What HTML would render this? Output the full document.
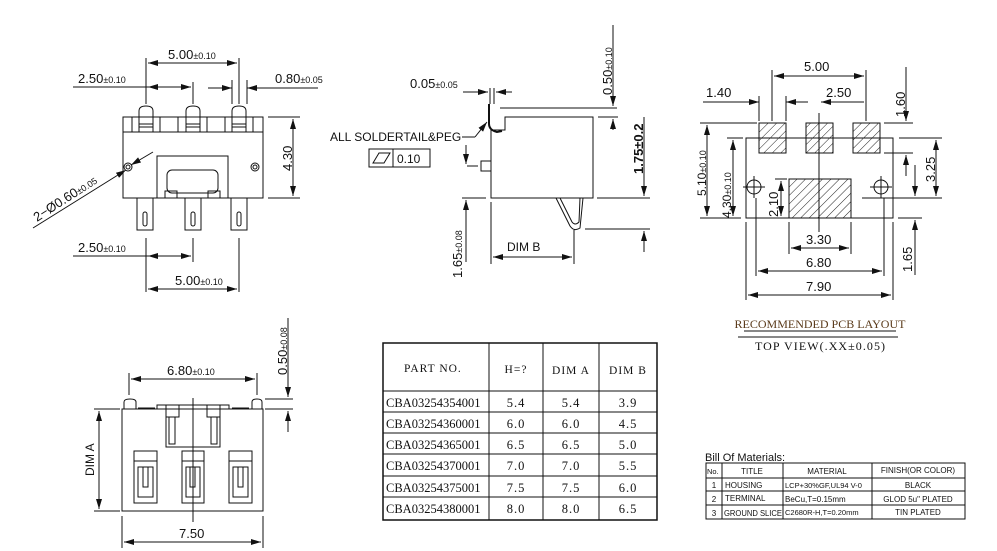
<!DOCTYPE html>
<html><head><meta charset="utf-8"><style>
html,body{margin:0;padding:0;background:#fff}
svg{display:block}
text{font-family:"Liberation Sans",sans-serif;fill:#111}
.s{font-family:"Liberation Serif","Noto Serif CJK SC",serif}
</style></head><body>
<svg width="997" height="551" viewBox="0 0 997 551" xmlns="http://www.w3.org/2000/svg">
<defs>
<marker id="a" viewBox="0 0 10 6" refX="10" refY="3" markerWidth="10" markerHeight="6" orient="auto-start-reverse" markerUnits="userSpaceOnUse"><path d="M0,0 L10,3 L0,6z" fill="#111"/></marker>
<pattern id="h" width="6" height="6" patternUnits="userSpaceOnUse" patternTransform="rotate(45)"><line x1="0" y1="0" x2="0" y2="6" stroke="#222" stroke-width="1"/></pattern>
</defs>
<g stroke="#111" stroke-width="1" fill="none">
<rect x="123" y="117" width="140" height="81"/>
<line x1="123" y1="132" x2="263" y2="132"/>
<g>
<path d="M139,132 V111 Q139,106 146,106 Q153,106 153,111 V132"/><line x1="139" y1="124" x2="153" y2="124"/><line x1="139" y1="127" x2="153" y2="127"/>
<path d="M186,132 V111 Q186,106 193,106 Q200,106 200,111 V132"/><line x1="186" y1="124" x2="200" y2="124"/><line x1="186" y1="127" x2="200" y2="127"/>
<path d="M232,132 V111 Q232,106 239,106 Q246,106 246,111 V132"/><line x1="232" y1="124" x2="246" y2="124"/><line x1="232" y1="127" x2="246" y2="127"/>
<line x1="132" y1="117" x2="132" y2="132"/><line x1="160" y1="117" x2="160" y2="132"/><line x1="178" y1="117" x2="178" y2="132"/><line x1="207" y1="117" x2="207" y2="132"/><line x1="225" y1="117" x2="225" y2="132"/><line x1="253" y1="117" x2="253" y2="132"/>
</g>
<rect x="157" y="156" width="71" height="42"/>
<rect x="167" y="170" width="51" height="23" rx="5"/>
<rect x="165" y="191" width="12" height="7"/><rect x="208" y="191" width="12" height="7"/>
<circle cx="128" cy="167" r="4"/><circle cx="128" cy="167" r="2"/>
<circle cx="255" cy="167" r="4"/><circle cx="255" cy="167" r="2"/>
<rect x="137" y="198" width="16" height="32"/><rect x="143" y="212" width="4" height="14" rx="2"/>
<rect x="185" y="198" width="16" height="32"/><rect x="191" y="212" width="4" height="14" rx="2"/>
<rect x="231" y="198" width="16" height="32"/><rect x="237" y="212" width="4" height="14" rx="2"/>
<line x1="146" y1="58" x2="146" y2="104"/><line x1="239" y1="58" x2="239" y2="104"/>
<line x1="148" y1="63" x2="237" y2="63" marker-start="url(#a)" marker-end="url(#a)"/>
<line x1="193" y1="82" x2="193" y2="104"/>
<line x1="73" y1="87" x2="191" y2="87" marker-end="url(#a)"/><line x1="148" y1="87" x2="160" y2="87" marker-start="url(#a)"/>
<line x1="232" y1="80" x2="232" y2="104"/><line x1="247" y1="80" x2="247" y2="104"/>
<line x1="208" y1="88" x2="232" y2="88" marker-end="url(#a)"/><line x1="247" y1="88" x2="318" y2="88" marker-start="url(#a)"/>
<line x1="268" y1="117" x2="300" y2="117"/><line x1="268" y1="198" x2="300" y2="198"/>
<line x1="293" y1="119" x2="293" y2="196" marker-start="url(#a)" marker-end="url(#a)"/>
<line x1="33" y1="228" x2="126" y2="170" marker-end="url(#a)"/><line x1="153" y1="152" x2="131" y2="165" marker-end="url(#a)"/>
<line x1="146" y1="238" x2="146" y2="292"/><line x1="193" y1="238" x2="193" y2="262"/><line x1="239" y1="238" x2="239" y2="292"/>
<line x1="73" y1="256" x2="191" y2="256" marker-end="url(#a)"/><line x1="148" y1="256" x2="160" y2="256" marker-start="url(#a)"/>
<line x1="148" y1="289" x2="237" y2="289" marker-start="url(#a)" marker-end="url(#a)"/>
<path d="M491,130 H505 V117 H593 V198 H491 Z"/>
<path d="M489,104 V124 Q489,130 497,132 L502,131" stroke-width="2"/>
<rect x="481" y="161" width="10" height="10"/>
<path d="M556,198 L570,226 Q574,232 580,228 L583,198"/><path d="M560,198 L572,222 Q575,226 579,222 L580,198"/>
<line x1="500" y1="108" x2="617" y2="108"/>
<line x1="490" y1="88" x2="490" y2="104"/><line x1="494" y1="88" x2="494" y2="104"/>
<line x1="463" y1="92" x2="488" y2="92" marker-end="url(#a)"/><line x1="496" y1="92" x2="512" y2="92" marker-start="url(#a)"/>
<line x1="598" y1="117" x2="618" y2="117"/>
<line x1="613" y1="25" x2="613" y2="106" marker-end="url(#a)"/><line x1="613" y1="119" x2="613" y2="130" marker-start="url(#a)"/>
<line x1="597" y1="198" x2="650" y2="198"/><line x1="585" y1="229" x2="650" y2="229"/>
<line x1="644" y1="117" x2="644" y2="196" marker-end="url(#a)"/><line x1="644" y1="231" x2="644" y2="252" marker-start="url(#a)"/>
<line x1="462" y1="198" x2="486" y2="198"/><line x1="467" y1="166" x2="478" y2="166"/>
<line x1="466" y1="145" x2="466" y2="164" marker-end="url(#a)"/><line x1="466" y1="200" x2="466" y2="262" marker-start="url(#a)"/>
<line x1="491" y1="202" x2="491" y2="264"/><line x1="574" y1="230" x2="574" y2="264"/>
<line x1="493" y1="257" x2="572" y2="257" marker-start="url(#a)" marker-end="url(#a)"/>
<line x1="462" y1="137" x2="475" y2="137"/><line x1="475" y1="137" x2="487" y2="122" marker-end="url(#a)"/>
<rect x="369" y="149" width="61" height="18"/><line x1="393" y1="149" x2="393" y2="167"/>
<path d="M373,163 L379,153 H390 L384,163 Z"/>
<rect x="746" y="138" width="147" height="80"/>
<rect x="759" y="123" width="27" height="30" fill="url(#h)"/><rect x="806" y="123" width="27" height="30" fill="url(#h)"/><rect x="853" y="123" width="27" height="30" fill="url(#h)"/>
<rect x="789" y="179" width="62" height="39" fill="url(#h)"/>
<circle cx="754" cy="187" r="7"/><circle cx="881" cy="187" r="7"/>
<line x1="754" y1="176" x2="754" y2="198"/><line x1="743" y1="187" x2="765" y2="187"/>
<line x1="881" y1="176" x2="881" y2="198"/><line x1="870" y1="187" x2="892" y2="187"/>
<line x1="819" y1="113" x2="819" y2="232"/>
<line x1="772" y1="70" x2="772" y2="121"/><line x1="866" y1="70" x2="866" y2="121"/>
<line x1="774" y1="76" x2="864" y2="76" marker-start="url(#a)" marker-end="url(#a)"/>
<line x1="759" y1="96" x2="759" y2="121"/><line x1="786" y1="96" x2="786" y2="121"/>
<line x1="703" y1="102" x2="759" y2="102" marker-end="url(#a)"/><line x1="786" y1="102" x2="808" y2="102" marker-start="url(#a)"/>
<line x1="821" y1="102" x2="864" y2="102" marker-start="url(#a)"/>
<line x1="884" y1="123" x2="913" y2="123"/><line x1="884" y1="153" x2="913" y2="153"/>
<line x1="906" y1="67" x2="906" y2="121" marker-end="url(#a)"/><line x1="906" y1="155" x2="906" y2="176" marker-start="url(#a)"/>
<line x1="700" y1="123" x2="757" y2="123"/><line x1="700" y1="218" x2="741" y2="218"/>
<line x1="707" y1="125" x2="707" y2="216" marker-start="url(#a)" marker-end="url(#a)"/>
<line x1="727" y1="138" x2="743" y2="138"/>
<line x1="733" y1="140" x2="733" y2="216" marker-start="url(#a)" marker-end="url(#a)"/>
<line x1="775" y1="179" x2="787" y2="179"/><line x1="775" y1="218" x2="787" y2="218"/>
<line x1="781" y1="181" x2="781" y2="216" marker-start="url(#a)" marker-end="url(#a)"/>
<line x1="899" y1="138" x2="942" y2="138"/><line x1="862" y1="198" x2="942" y2="198"/>
<line x1="936" y1="140" x2="936" y2="196" marker-start="url(#a)" marker-end="url(#a)"/>
<line x1="898" y1="218" x2="922" y2="218"/>
<line x1="915" y1="165" x2="915" y2="196" marker-end="url(#a)"/><line x1="915" y1="220" x2="915" y2="275" marker-start="url(#a)"/>
<line x1="789" y1="222" x2="789" y2="254"/><line x1="851" y1="222" x2="851" y2="254"/>
<line x1="791" y1="248" x2="849" y2="248" marker-start="url(#a)" marker-end="url(#a)"/>
<line x1="756" y1="198" x2="756" y2="276"/><line x1="884" y1="198" x2="884" y2="276"/>
<line x1="758" y1="271" x2="882" y2="271" marker-start="url(#a)" marker-end="url(#a)"/>
<line x1="746" y1="222" x2="746" y2="300"/><line x1="893" y1="222" x2="893" y2="300"/>
<line x1="748" y1="295" x2="891" y2="295" marker-start="url(#a)" marker-end="url(#a)"/>
<line x1="744" y1="331" x2="896" y2="331"/><line x1="738" y1="337" x2="898" y2="337"/>
<rect x="122" y="409" width="141" height="102"/>
<path d="M124,409 V402 Q124,399 130,399 Q136,399 136,402 V409"/><path d="M252,409 V402 Q252,399 257,399 Q262,399 262,402 V409"/>
<line x1="138" y1="408" x2="155" y2="408"/><line x1="232" y1="408" x2="249" y2="408"/>
<rect x="157" y="405" width="72" height="4"/>
<rect x="166" y="409" width="54" height="38"/><rect x="169" y="417" width="6" height="27"/><rect x="211" y="417" width="6" height="27"/>
<rect x="166" y="405" width="13" height="12"/><rect x="207" y="405" width="13" height="12"/>
<line x1="193" y1="398" x2="193" y2="522"/>
<rect x="134" y="451" width="23" height="52"/><rect x="138" y="467" width="15" height="30"/><rect x="143" y="467" width="5" height="20"/><line x1="134" y1="461" x2="157" y2="461"/>
<rect x="182" y="451" width="22" height="52"/><rect x="186" y="467" width="14" height="30"/><rect x="190" y="467" width="5" height="20"/><line x1="182" y1="461" x2="204" y2="461"/>
<rect x="229" y="451" width="23" height="52"/><rect x="233" y="467" width="15" height="30"/><rect x="238" y="467" width="5" height="20"/><line x1="229" y1="461" x2="252" y2="461"/>
<line x1="129" y1="373" x2="129" y2="395"/><line x1="257" y1="373" x2="257" y2="395"/>
<line x1="131" y1="379" x2="255" y2="379" marker-start="url(#a)" marker-end="url(#a)"/>
<line x1="265" y1="399" x2="293" y2="399"/><line x1="265" y1="409" x2="293" y2="409"/>
<line x1="288" y1="318" x2="288" y2="397" marker-end="url(#a)"/><line x1="288" y1="411" x2="288" y2="432" marker-start="url(#a)"/>
<line x1="94" y1="409" x2="120" y2="409"/><line x1="94" y1="511" x2="120" y2="511"/>
<line x1="99" y1="411" x2="99" y2="509" marker-start="url(#a)" marker-end="url(#a)"/>
<line x1="122" y1="516" x2="122" y2="548"/><line x1="263" y1="516" x2="263" y2="548"/>
<line x1="124" y1="542" x2="261" y2="542" marker-start="url(#a)" marker-end="url(#a)"/>
<rect x="383" y="343" width="274" height="177" stroke-width="1.5"/>
<line x1="489" y1="343" x2="489" y2="520"/><line x1="543" y1="343" x2="543" y2="520"/><line x1="599" y1="343" x2="599" y2="520"/>
<line x1="383" y1="391" x2="657" y2="391"/><line x1="383" y1="412" x2="657" y2="412"/><line x1="383" y1="433" x2="657" y2="433"/><line x1="383" y1="454" x2="657" y2="454"/><line x1="383" y1="476" x2="657" y2="476"/><line x1="383" y1="497" x2="657" y2="497"/>
<rect x="706" y="463" width="259" height="56"/>
<line x1="722" y1="463" x2="722" y2="519"/><line x1="783" y1="463" x2="783" y2="519"/><line x1="872" y1="463" x2="872" y2="519"/>
<line x1="706" y1="478" x2="965" y2="478"/><line x1="706" y1="491" x2="965" y2="491"/><line x1="706" y1="505" x2="965" y2="505"/>
</g>
<g font-size="13">
<text x="168" y="59">5.00<tspan font-size="9">±0.10</tspan></text>
<text x="78" y="83">2.50<tspan font-size="9">±0.10</tspan></text>
<text x="275" y="83">0.80<tspan font-size="9">±0.05</tspan></text>
<text transform="translate(292,171) rotate(-90)">4.30</text>
<text transform="translate(37,222) rotate(-33)">2−Ø0.60<tspan font-size="9">±0.05</tspan></text>
<text x="78" y="252">2.50<tspan font-size="9">±0.10</tspan></text>
<text x="175" y="285">5.00<tspan font-size="9">±0.10</tspan></text>
<text x="410" y="88">0.05<tspan font-size="9">±0.05</tspan></text>
<text transform="translate(612,95) rotate(-90)">0.50<tspan font-size="9">±0.10</tspan></text>
<text transform="translate(643,174) rotate(-90)" font-weight="bold" font-size="13">1.75±0.2</text>
<text transform="translate(462,278) rotate(-90)">1.65<tspan font-size="9">±0.08</tspan></text>
<text x="507" y="251" font-size="12">DIM  B</text>
<text x="330" y="141" font-size="12">ALL  SOLDERTAIL&amp;PEG</text>
<text x="397" y="163" font-size="12">0.10</text>
<text x="804" y="71">5.00</text>
<text x="706" y="97">1.40</text>
<text x="826" y="97">2.50</text>
<text transform="translate(905,117) rotate(-90)">1.60</text>
<text transform="translate(706,196) rotate(-90)" font-size="12">5.10<tspan font-size="9">±0.10</tspan></text>
<text transform="translate(731,218) rotate(-90)" font-size="12">4.30<tspan font-size="9">±0.10</tspan></text>
<text transform="translate(778,217) rotate(-90)">2.10</text>
<text transform="translate(935,182) rotate(-90)">3.25</text>
<text transform="translate(912,272) rotate(-90)">1.65</text>
<text x="806" y="244">3.30</text>
<text x="806" y="267">6.80</text>
<text x="806" y="291">7.90</text>
<text x="820" y="328" class="s" font-size="12" text-anchor="middle" style="fill:#5a3a1a">RECOMMENDED PCB LAYOUT</text>
<text x="755" y="350" class="s" font-size="12" textLength="130" lengthAdjust="spacing">TOP VIEW(.XX±0.05)</text>
<text x="167" y="375">6.80<tspan font-size="9">±0.10</tspan></text>
<text transform="translate(287,375) rotate(-90)">0.50<tspan font-size="9">±0.08</tspan></text>
<text transform="translate(94,476) rotate(-90)" font-size="12">DIM  A</text>
<text x="179" y="538">7.50</text>
</g>
<g class="s" font-size="12.5" letter-spacing="1">
<text x="404" y="372" class="s" font-size="11.5">PART NO.</text>
<text x="516" y="373" class="s" text-anchor="middle" font-size="11.5">H=?</text>
<text x="571" y="374" class="s" text-anchor="middle" font-size="11.5">DIM A</text>
<text x="628" y="374" class="s" text-anchor="middle" font-size="11.5">DIM B</text>
<text x="386" y="407" class="s" letter-spacing="0">CBA03254354001</text><text x="516" y="407" class="s" text-anchor="middle">5.4</text><text x="571" y="407" class="s" text-anchor="middle">5.4</text><text x="628" y="407" class="s" text-anchor="middle">3.9</text>
<text x="386" y="428" class="s" letter-spacing="0">CBA03254360001</text><text x="516" y="428" class="s" text-anchor="middle">6.0</text><text x="571" y="428" class="s" text-anchor="middle">6.0</text><text x="628" y="428" class="s" text-anchor="middle">4.5</text>
<text x="386" y="449" class="s" letter-spacing="0">CBA03254365001</text><text x="516" y="449" class="s" text-anchor="middle">6.5</text><text x="571" y="449" class="s" text-anchor="middle">6.5</text><text x="628" y="449" class="s" text-anchor="middle">5.0</text>
<text x="386" y="470" class="s" letter-spacing="0">CBA03254370001</text><text x="516" y="470" class="s" text-anchor="middle">7.0</text><text x="571" y="470" class="s" text-anchor="middle">7.0</text><text x="628" y="470" class="s" text-anchor="middle">5.5</text>
<text x="386" y="492" class="s" letter-spacing="0">CBA03254375001</text><text x="516" y="492" class="s" text-anchor="middle">7.5</text><text x="571" y="492" class="s" text-anchor="middle">7.5</text><text x="628" y="492" class="s" text-anchor="middle">6.0</text>
<text x="386" y="513" class="s" letter-spacing="0">CBA03254380001</text><text x="516" y="513" class="s" text-anchor="middle">8.0</text><text x="571" y="513" class="s" text-anchor="middle">8.0</text><text x="628" y="513" class="s" text-anchor="middle">6.5</text>
</g>
<g font-size="8">
<text x="705" y="461" font-size="11">Bill Of Materials:</text>
<text x="707" y="474" font-size="7.5">No.</text><text x="752" y="474" text-anchor="middle">TITLE</text><text x="827" y="474" text-anchor="middle">MATERIAL</text><text x="918" y="473" text-anchor="middle">FINISH(OR COLOR)</text>
<text x="714" y="488" text-anchor="middle">1</text><text x="725" y="488">HOUSING</text><text x="785" y="488" font-size="7.5">LCP+30%GF,UL94 V-0</text><text x="918" y="488" text-anchor="middle">BLACK</text>
<text x="714" y="502" text-anchor="middle">2</text><text x="725" y="501">TERMINAL</text><text x="785" y="502">BeCu,T=0.15mm</text><text x="918" y="502" text-anchor="middle">GLOD 5u" PLATED</text>
<text x="714" y="516" text-anchor="middle">3</text><text x="724" y="516" font-size="8" textLength="58" lengthAdjust="spacingAndGlyphs">GROUND SLICE</text><text x="785" y="515" font-size="7.5">C2680R-H,T=0.20mm</text><text x="918" y="515" text-anchor="middle">TIN PLATED</text>
</g>
</svg>
</body></html>
